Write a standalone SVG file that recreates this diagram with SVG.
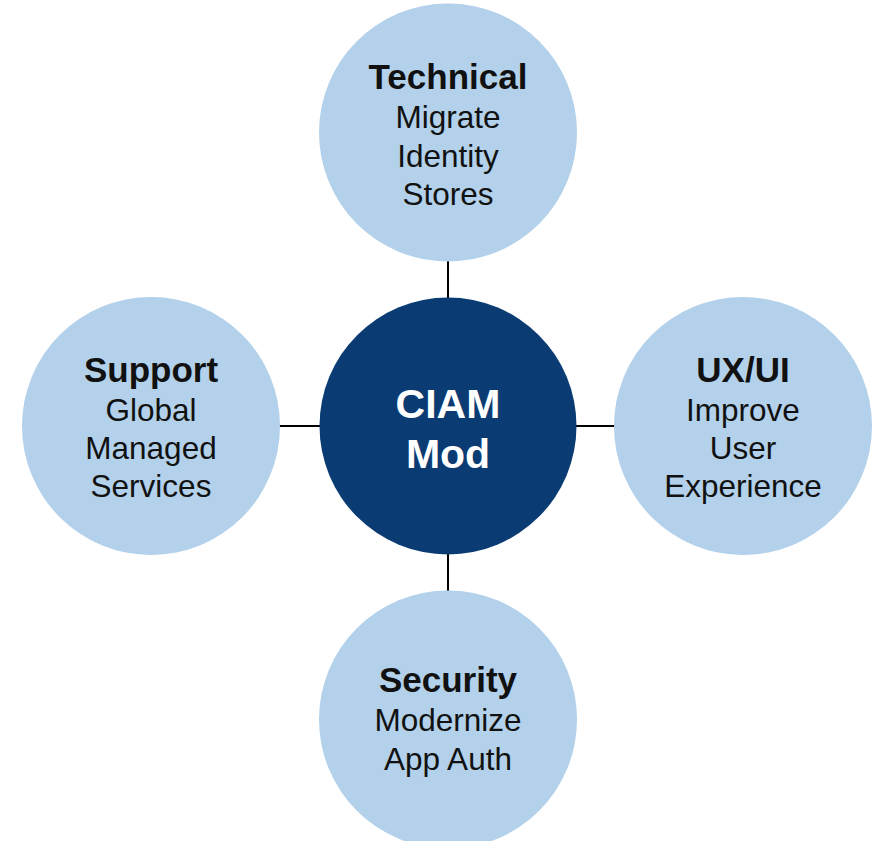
<svg xmlns="http://www.w3.org/2000/svg" width="873" height="841" viewBox="0 0 873 841">
<style>
.sat{fill:#B3D1EA}
.hub{fill:#0A3B72}
.t{font-family:"Liberation Sans",Arial,sans-serif;text-anchor:middle;fill:#111}
.b{font-weight:bold;font-size:35px}
.r{font-size:31.5px}
.w{font-family:"Liberation Sans",Arial,sans-serif;text-anchor:middle;fill:#fff;font-weight:bold;font-size:41px}
.c{stroke:#000;stroke-width:2;fill:none}
</style>
<rect width="873" height="841" fill="#fff"/>
<g id="connectors">
<line class="c" x1="448" y1="258" x2="448" y2="300"/>
<line class="c" x1="448" y1="552" x2="448" y2="592"/>
<line class="c" x1="279" y1="426" x2="320" y2="426"/>
<line class="c" x1="576" y1="426" x2="615" y2="426"/>
</g>
<g id="technical">
<circle class="sat" cx="448" cy="132.5" r="129"/>
<text class="t b" x="448" y="89">Technical</text>
<text class="t r" x="448" y="128">Migrate</text>
<text class="t r" x="448" y="167">Identity</text>
<text class="t r" x="448" y="205">Stores</text>
</g>
<g id="support">
<circle class="sat" cx="151" cy="426" r="129"/>
<text class="t b" x="151" y="382">Support</text>
<text class="t r" x="151" y="421">Global</text>
<text class="t r" x="151" y="459">Managed</text>
<text class="t r" x="151" y="497">Services</text>
</g>
<g id="ciam">
<circle class="hub" cx="448" cy="426" r="128.5"/>
<text class="w" x="448" y="418">CIAM</text>
<text class="w" x="448" y="468">Mod</text>
</g>
<g id="uxui">
<circle class="sat" cx="743" cy="426" r="129"/>
<text class="t b" x="743" y="382">UX/UI</text>
<text class="t r" x="743" y="421">Improve</text>
<text class="t r" x="743" y="459">User</text>
<text class="t r" x="743" y="497">Experience</text>
</g>
<g id="security">
<circle class="sat" cx="448" cy="719.5" r="129"/>
<text class="t b" x="448" y="692">Security</text>
<text class="t r" x="448" y="731">Modernize</text>
<text class="t r" x="448" y="770">App Auth</text>
</g>
</svg>
